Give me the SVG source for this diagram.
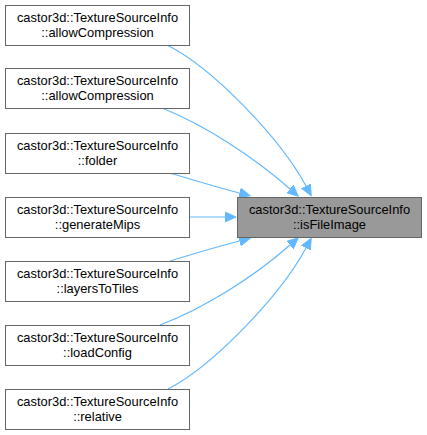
<svg xmlns="http://www.w3.org/2000/svg" width="427" height="435" viewBox="0 0 427 435">
<style>
.n rect{fill:#ffffff;stroke:#666666;stroke-width:1}
.t rect{fill:#999999;stroke:#666666;stroke-width:1}
text{font-family:"Liberation Sans",Arial,sans-serif;font-size:12.9px;fill:#000000;text-anchor:middle}
.e path{fill:none;stroke:#63b8ff;stroke-width:1.2;marker-end:url(#ah)}
</style>
<defs>
<marker id="ah" markerUnits="userSpaceOnUse" markerWidth="14" markerHeight="12" refX="0" refY="5.5" orient="auto" viewBox="0 0 14 12">
<path d="M0,0.5 L11,5.5 L0,10.5 z" fill="#63b8ff" stroke="#63b8ff" stroke-width="1"/>
</marker>
</defs>
<rect width="427" height="435" fill="#ffffff"/>
<g id="edges" class="e">
<path d="M167,45 C213,68 280,138 306,186"/>
<path d="M162,108 C205,125 255,158 290,189"/>
<path d="M170,173 C190,179 212,186 239.5,193"/>
<path d="M190,217 L225,217"/>
<path d="M170,261 C190,255 212,248 239.5,241"/>
<path d="M160,325 C205,308 255,276 290,245"/>
<path d="M168,389 C213,366 280,296 306,248"/>
</g>
<g id="target" class="t">
<rect x="237.5" y="197.5" width="184" height="40"/>
<text x="329.5" y="214">castor3d::TextureSourceInfo</text>
<text x="329.5" y="229">::isFileImage</text>
</g>
<g id="n1" class="n">
<rect x="5.5" y="5.5" width="184" height="40"/>
<text x="97.5" y="22">castor3d::TextureSourceInfo</text>
<text x="97.5" y="37">::allowCompression</text>
</g>
<g id="n2" class="n">
<rect x="5.5" y="68.5" width="184" height="40"/>
<text x="97.5" y="85">castor3d::TextureSourceInfo</text>
<text x="97.5" y="100">::allowCompression</text>
</g>
<g id="n3" class="n">
<rect x="5.5" y="133.5" width="184" height="40"/>
<text x="97.5" y="150">castor3d::TextureSourceInfo</text>
<text x="97.5" y="165">::folder</text>
</g>
<g id="n4" class="n">
<rect x="5.5" y="197.5" width="184" height="40"/>
<text x="97.5" y="214">castor3d::TextureSourceInfo</text>
<text x="97.5" y="229">::generateMips</text>
</g>
<g id="n5" class="n">
<rect x="5.5" y="261.5" width="184" height="40"/>
<text x="97.5" y="278">castor3d::TextureSourceInfo</text>
<text x="97.5" y="293">::layersToTiles</text>
</g>
<g id="n6" class="n">
<rect x="5.5" y="325.5" width="184" height="40"/>
<text x="97.5" y="342">castor3d::TextureSourceInfo</text>
<text x="97.5" y="357">::loadConfig</text>
</g>
<g id="n7" class="n">
<rect x="5.5" y="389.5" width="184" height="40"/>
<text x="97.5" y="406">castor3d::TextureSourceInfo</text>
<text x="97.5" y="421">::relative</text>
</g>
</svg>
